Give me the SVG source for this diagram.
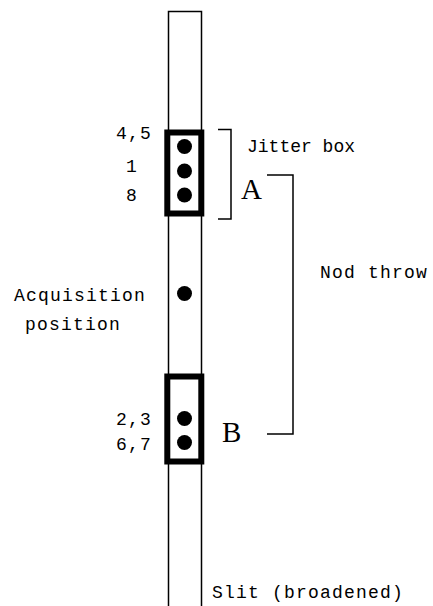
<svg xmlns="http://www.w3.org/2000/svg" width="433" height="606" viewBox="0 0 433 606">
<style>
.mono{font-family:"Liberation Mono","Courier New",monospace;font-size:18px;letter-spacing:1.2px;fill:#000}
.serif{font-family:"Liberation Serif","Times New Roman",serif;font-size:29px;fill:#000}
.ln{fill:none;stroke:#000;stroke-width:1.5}
.box{fill:#fff;stroke:#000;stroke-width:6}
.dot{fill:#000}
</style>
<rect width="433" height="606" fill="#fff"/>
<g id="slit">
<path class="ln" d="M168.5,606 V11.5 H201.5 V606"/>
<text class="mono" x="212" y="598">Slit (broadened)</text>
</g>
<g id="boxA">
<rect class="box" x="167.3" y="132.5" width="34" height="81"/>
<circle class="dot" cx="184.5" cy="146.5" r="7.5"/>
<circle class="dot" cx="184.5" cy="171" r="7.5"/>
<circle class="dot" cx="184.5" cy="195" r="7.5"/>
<text class="serif" x="241" y="199">A</text>
<text class="mono" x="116" y="139">4,5</text>
<text class="mono" x="126" y="172">1</text>
<text class="mono" x="126" y="201">8</text>
</g>
<g id="acquisition">
<circle class="dot" cx="184.5" cy="293.5" r="7.5"/>
<text class="mono" x="14" y="301">Acquisition</text>
<text class="mono" x="25" y="330">position</text>
</g>
<g id="boxB">
<rect class="box" x="167.3" y="376.5" width="34" height="85"/>
<circle class="dot" cx="184.5" cy="418.5" r="7.5"/>
<circle class="dot" cx="184.5" cy="442.5" r="7.5"/>
<text class="serif" x="222" y="442">B</text>
<text class="mono" x="116" y="425">2,3</text>
<text class="mono" x="116" y="450">6,7</text>
</g>
<g id="connectors">
<path class="ln" d="M218,129.5 H231 V219 H218"/>
<path class="ln" d="M267,175 H293 V434 H267"/>
<text class="mono" x="247" y="152" style="letter-spacing:0">Jitter box</text>
<text class="mono" x="320" y="278">Nod throw</text>
</g>
</svg>
